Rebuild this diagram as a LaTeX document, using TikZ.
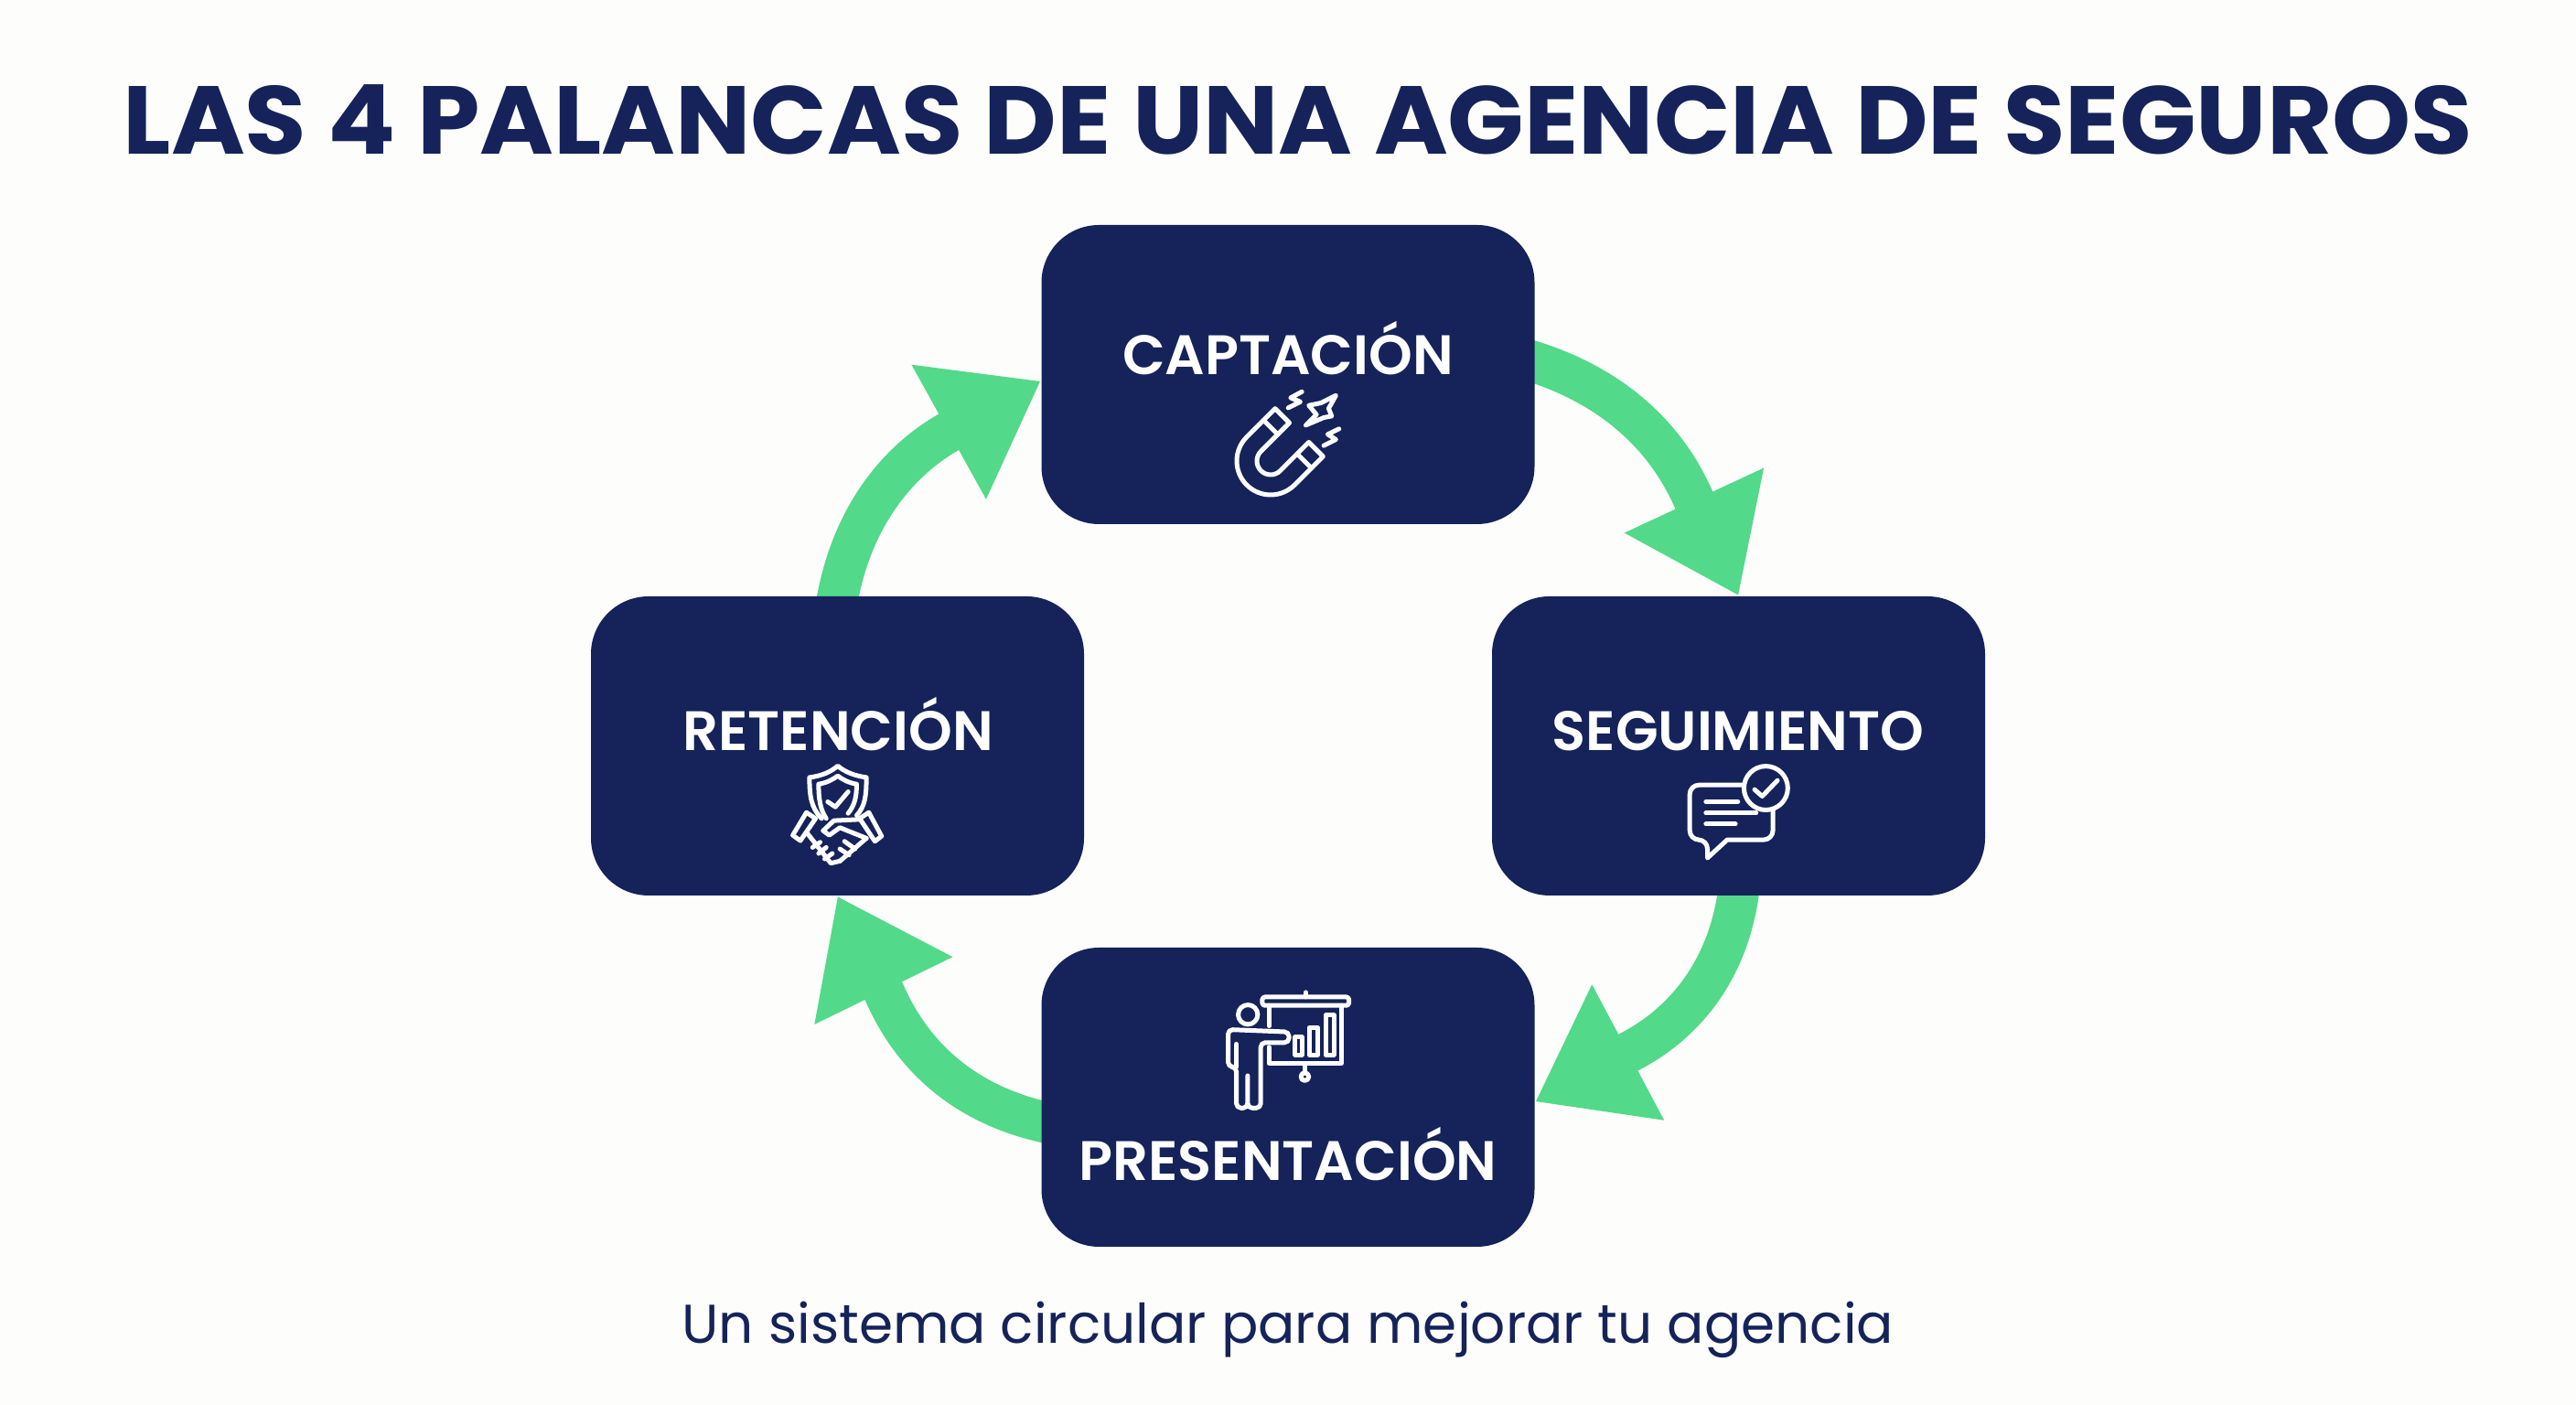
\documentclass[tikz,border=0pt]{standalone}
\usepackage{fontspec}
\setmainfont{Poppins}
\newfontfamily\semifont{Poppins SemiBold}
\usetikzlibrary{arrows.meta,backgrounds}
\definecolor{navy}{HTML}{15235A}
\definecolor{verde}{HTML}{52D98A}
\definecolor{fondo}{HTML}{FDFDFB}
\tikzset{
  palanca/.style={fill=navy,rounded corners=0.63cm,minimum width=5.39cm,minimum height=3.27cm,inner sep=0pt},
  rotulo/.style={text=white,anchor=base,font=\semifont\fontsize{17.3}{20}\selectfont},
  flecha/.style={draw=verde,line width=0.45cm,shorten <=-0.2cm,-{Triangle[length=1.15cm,width=1.6cm]}},
  icono/.style={draw=white,line width=0.05cm,line cap=round,line join=round},
  zoomed/.style={x=0.00333cm,y=-0.00333cm},
}
\begin{document}
\begin{tikzpicture}
\useasboundingbox (0,0) rectangle (28.16,15.36);

\node (titulo) at (14.19,14.05) {\fontsize{30}{36}\selectfont\bfseries\addfontfeature{FakeStretch=1.04}\color{navy} LAS 4 PALANCAS DE UNA AGENCIA DE SEGUROS};
\node [anchor=base] (pie) at (14.08,0.67) {\fontsize{17}{20}\selectfont\color{navy} Un sistema circular para mejorar tu agencia};

\node [palanca] (cap) at (14.08,11.265) {};
\node [palanca] (seg) at (19.005,7.205) {};
\node [palanca] (ret) at (9.155,7.205) {};
\node [palanca] (pre) at (14.08,3.365) {};

\node [rotulo] (capt) at (14.08,11.265) {CAPTACIÓN};
\node [rotulo] (segt) at (19.0,7.15) {SEGUIMIENTO};
\node [rotulo] (rett) at (9.16,7.15) {RETENCIÓN};
\node [rotulo] (pret) at (14.08,2.45) {PRESENTACIÓN};

\begin{scope}[on background layer]
\fill [fondo] (0,0) rectangle (28.16,15.36);
\draw [flecha] ([yshift=0.14cm]cap.east) to [out=-15,in=115] (seg.north);
\draw [flecha] (seg.south) to [out=-95,in=28] ([yshift=-0.05cm]pre.east);
\draw [flecha] ([yshift=-0.27cm]pre.west) to [out=170,in=-64] (ret.south);
\draw [flecha] (ret.north) to [out=82,in=209] ([yshift=-0.07cm]cap.west);
\end{scope}

% iman
\begin{scope}[shift={(13.89cm,10.32cm)},rotate=-45]
\draw [icono] (-.37,.44) -- (-.37,0) arc (180:360:.37) -- (.37,.44) -- (.15,.44) -- (.15,0) arc (360:180:.15) -- (-.15,.44) -- cycle;
\draw [icono] (-.37,.26) -- (-.15,.26);
\draw [icono] (.15,.26) -- (.37,.26);
\end{scope}
\begin{scope}[shift={(13.4cm,11.26cm)},zoomed]
\draw [icono] (205,108) -- (245,88) -- (213,75) -- (250,55);
\draw [icono] (322,232) -- (362,212) -- (335,195) -- (372,177);
\draw [icono] (362,67) -- (312,92) -- (273,100) -- (298,130) -- (263,165) -- (322,140) -- (348,135) -- (338,110) -- cycle;
\end{scope}

% chat
\begin{scope}[shift={(18cm,7.26cm)},zoomed]
\draw [icono] (320,145) [rounded corners=0.1cm] -- (142,145) -- (142,325) -- (200,325) [sharp corners] -- (200,385) -- (265,325) [rounded corners=0.1cm] -- (415,325) -- (415,225);
\draw [icono] (392,155) circle (72);
\draw [icono] (355,160) -- (380,182) -- (430,130);
\draw [icono] (195,200) -- (300,200);
\draw [icono] (195,237) -- (360,237);
\draw [icono] (195,273) -- (292,273);
\end{scope}

% presentacion
\begin{scope}[shift={(13.1cm,4.76cm)},zoomed]
\draw [icono] (163,148) circle (32);
\draw [icono,rounded corners=0.05cm] (298,205) -- (98,197) -- (98,320) -- (125,320) -- (125,455) -- (162,455) -- (162,340) -- (162,455) -- (205,455) -- (205,240) -- (298,240) -- cycle;
\draw [icono] (125,320) -- (125,245);
\draw [icono,rounded corners=0.03cm] (210,90) rectangle (495,118);
\draw [icono] (353,75) -- (353,90);
\draw [icono] (232,118) -- (232,185);
\draw [icono] (232,255) -- (232,308) -- (470,308) -- (470,118);
\draw [icono] (350,308) -- (350,340);
\draw [icono] (350,352) circle (13);
\draw [icono] (318,222) rectangle (340,280);
\draw [icono] (365,190) rectangle (392,280);
\draw [icono] (418,150) rectangle (445,280);
\end{scope}

% escudo y manos
\begin{scope}[shift={(8.4cm,7.16cm)},zoomed]
\draw [icono] (175,225) .. controls (140,190) and (135,150) .. (135,90) .. controls (175,85) and (205,72) .. (228,52) .. controls (250,72) and (285,85) .. (322,90) .. controls (322,150) and (318,185) .. (290,215);
\draw [icono] (190,225) .. controls (170,195) and (165,160) .. (165,112) .. controls (190,108) and (210,98) .. (228,85) .. controls (245,98) and (265,108) .. (290,112) .. controls (290,150) and (285,180) .. (262,208);
\draw [icono] (195,170) -- (220,187) -- (262,137);
\draw [icono] (125,205) -- (155,225) -- (105,298) -- (80,280) -- cycle;
\draw [icono] (330,205) -- (300,225) -- (350,300) -- (372,283) -- cycle;
\draw [icono] (180,265) -- (215,232) -- (300,228);
\draw [icono] (180,265) -- (200,280) -- (235,255) -- (322,290);
\draw [icono] (322,290) -- (235,365);
\draw [icono] (125,270) -- (205,372) -- (235,365);
\draw [icono] (145,320) -- (170,303);
\draw [icono] (165,340) -- (190,320);
\draw [icono] (185,358) -- (210,340);
\draw [icono] (250,300) -- (285,325);
\draw [icono] (235,325) -- (265,345);
\end{scope}
\end{tikzpicture}
\end{document}
